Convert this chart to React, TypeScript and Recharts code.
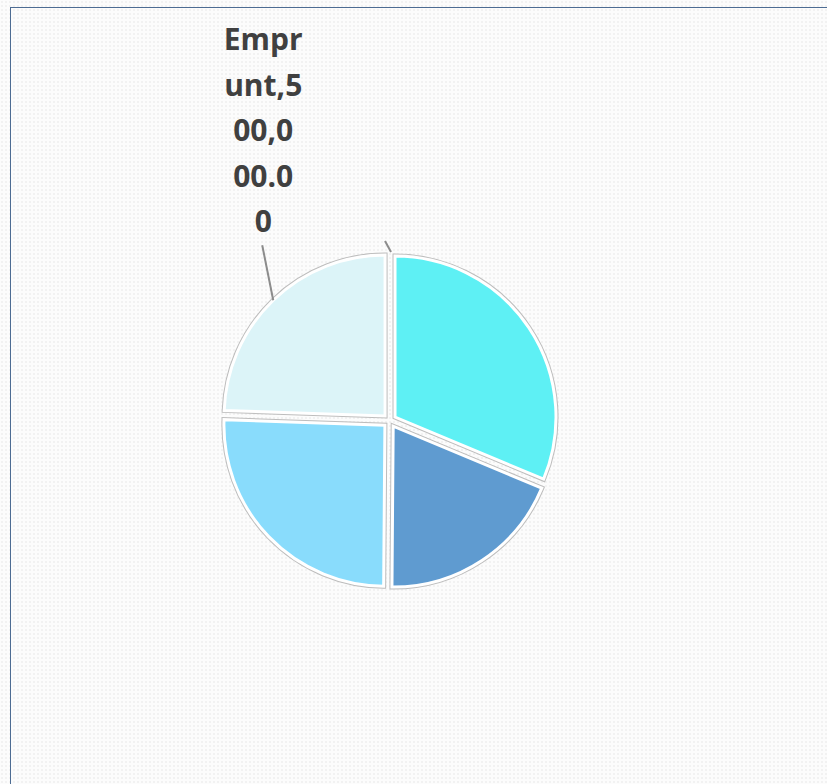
import { PieChart, Pie, Cell } from "recharts";

const names = ["Apport", "Subvention", "Crédit-bail", "Emprunt"];
const amounts = [640000, 385000, 520000, 500000];
const colors = ["#5ef0f4", "#5f9bd0", "#89dcfc", "#dcf4f8"];
// how the long label wraps in the narrow label box
const labelChunks = [4, 5, 4, 4];

const data = names.map((name, i) => ({ name, value: amounts[i] }));

const W = 827;
const H = 784;
const CX = 389.6;
const CY = 420.7;
const R = 161;
const EXPLODE = 6.5;
const RAD = Math.PI / 180;

const total = amounts.reduce((a, b) => a + b, 0);

// offset of each exploded slice along its middle angle
const offsets = amounts.map((v, i) => {
  const before = amounts.slice(0, i).reduce((a, b) => a + b, 0);
  const mid = 90 - ((before + v / 2) / total) * 360;
  return { dx: Math.cos(mid * RAD) * EXPLODE, dy: -Math.sin(mid * RAD) * EXPLODE };
});

const fmt = (v: number) =>
  v.toLocaleString("en-US", { minimumFractionDigits: 2, maximumFractionDigits: 2 });

function wrapLabel(text: string) {
  const lines: string[] = [];
  let pos = 0;
  for (const n of labelChunks) {
    if (pos >= text.length) break;
    lines.push(text.slice(pos, pos + n));
    pos += n;
  }
  if (pos < text.length) lines.push(text.slice(pos));
  return lines;
}

function makeLabel(slice: number) {
  return (props: any) => {
    const { cx, cy, midAngle, outerRadius, startAngle, index, name, value } = props;
    if (index !== slice) return null;
    if (name === "Emprunt") {
      const ax = cx + outerRadius * Math.cos(-midAngle * RAD);
      const ay = cy + outerRadius * Math.sin(-midAngle * RAD);
      const lines = wrapLabel(`${name},${fmt(value)}`);
      const lastBase = ay - 68;
      return (
        <g>
          <line x1={ax} y1={ay} x2={ax - 11} y2={ay - 55} stroke="#8c8c8c" strokeWidth={2} />
          <text
            x={ax - 10}
            textAnchor="middle"
            fontFamily="'Open Sans', sans-serif"
            fontWeight={700}
            fontSize={30}
            fill="#404040"
          >
            {lines.map((l, k) => (
              <tspan key={k} x={ax - 10} y={lastBase - (lines.length - 1 - k) * 45.5}>
                {l}
              </tspan>
            ))}
          </text>
        </g>
      );
    }
    // leader line of the top slice, its text falls outside the frame
    const sx = cx + outerRadius * Math.cos(-startAngle * RAD);
    const sy = cy + outerRadius * Math.sin(-startAngle * RAD);
    return <line x1={sx - 4} y1={sy - 4} x2={sx - 10} y2={sy - 15} stroke="#8c8c8c" strokeWidth={2} />;
  };
}

export default function App() {
  return (
    <div
      style={{
        position: "absolute",
        left: 0,
        top: 0,
        width: W,
        height: H,
        overflow: "hidden",
        background: "#fcfcfc",
        backgroundImage: "radial-gradient(#f2f2f2 0.8px, transparent 1px)",
        backgroundSize: "4px 4px",
      }}
    >
      <div
        style={{
          position: "absolute",
          left: 10,
          top: 7,
          width: 1000,
          height: 1000,
          borderLeft: "1.5px solid #4d6c93",
          borderTop: "1.5px solid #4d6c93",
        }}
      />
      <div style={{ position: "absolute", left: 0, top: 0 }}>
        <PieChart width={W} height={H} margin={{ top: 0, right: 0, bottom: 0, left: 0 }}>
          {data.map((_, i) => (
            <Pie
              key={`o${i}`}
              data={data}
              dataKey="value"
              cx={CX + offsets[i].dx}
              cy={CY + offsets[i].dy}
              outerRadius={R}
              startAngle={90}
              endAngle={-270}
              isAnimationActive={false}
              labelLine={false}
            >
              {data.map((d, j) => (
                <Cell
                  key={d.name}
                  fill={j === i ? "#bdbdbd" : "none"}
                  stroke={j === i ? "#bdbdbd" : "none"}
                  strokeWidth={5}
                />
              ))}
            </Pie>
          ))}
          {data.map((_, i) => (
            <Pie
              key={`f${i}`}
              data={data}
              dataKey="value"
              cx={CX + offsets[i].dx}
              cy={CY + offsets[i].dy}
              outerRadius={R}
              startAngle={90}
              endAngle={-270}
              isAnimationActive={false}
              labelLine={false}
              label={i === 0 || i === 3 ? makeLabel(i) : false}
            >
              {data.map((d, j) => (
                <Cell
                  key={d.name}
                  fill={j === i ? colors[j] : "none"}
                  stroke={j === i ? "#ffffff" : "none"}
                  strokeWidth={3}
                />
              ))}
            </Pie>
          ))}
        </PieChart>
      </div>
    </div>
  );
}
